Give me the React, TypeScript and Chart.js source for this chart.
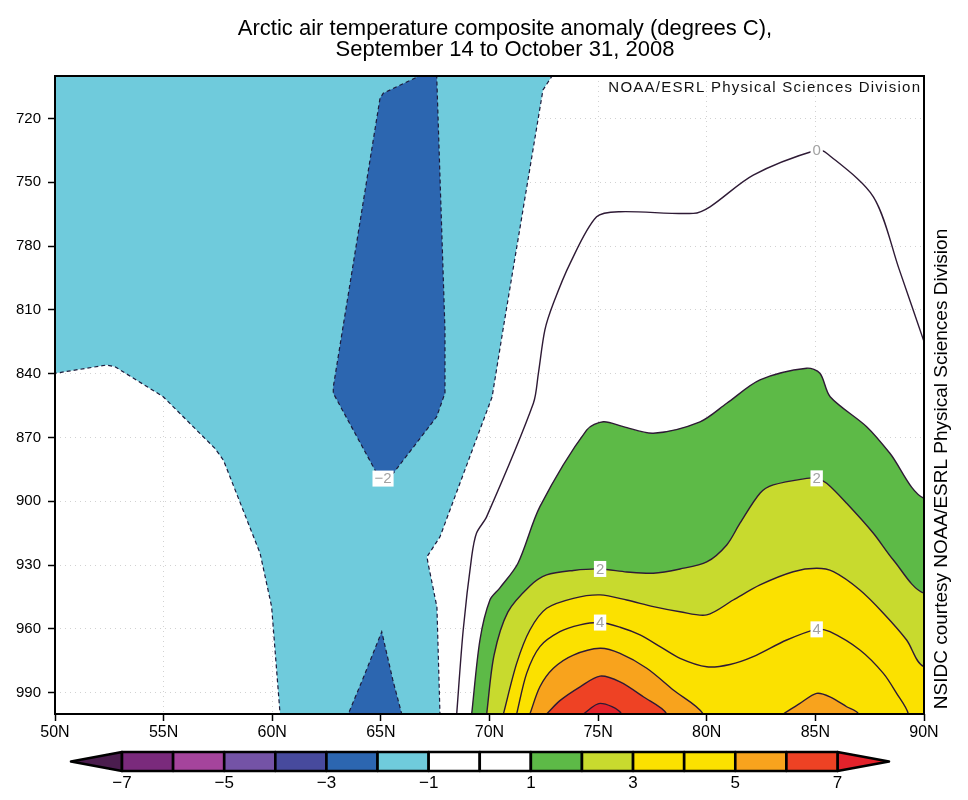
import React, { useEffect, useRef } from 'react';
import { Chart, registerables } from 'chart.js';

Chart.register(...registerables);

type Pt = [number, number]; // [latitude in degrees N, pressure in hPa]

const LAT_MIN = 50;
const LAT_MAX = 90;
const P_TOP = 700;
const P_BOTTOM = 1000;

const latTicks = [50, 55, 60, 65, 70, 75, 80, 85, 90];
const pressureTicks = [720, 750, 780, 810, 840, 870, 900, 930, 960, 990];

// Contour -1 (dashed), western branch: from the 50N edge down to the surface
const contourM1West: Pt[] = [
  [50, 839.8], [52.38, 835.9], [52.76, 836.7], [54.98, 850.8], [57.36, 875.1],
  [57.75, 880.6], [59.44, 924.4], [59.97, 949.5], [60.36, 1000],
];
// Contour -1 (dashed), eastern branch: from the top down to the surface
const contourM1East: Pt[] = [
  [72.88, 700], [72.46, 706.6], [70.62, 819.4], [70.12, 850.9], [67.72, 916.7],
  [67.12, 926.1], [67.17, 929.0], [67.58, 949.7], [67.72, 1000],
];
// Contour -2 (dashed), upper cell
const contourM2Upper: Pt[] = [
  [66.65, 700.6], [65.11, 708.1], [64.96, 710.5], [62.81, 846.2], [62.81, 849.2],
  [64.81, 886.8], [65.11, 888.6], [65.57, 886.8], [67.57, 860.2], [67.95, 849.1],
  [67.95, 819.4], [67.57, 700],
];
// Contour -2 (dashed), surface cell
const contourM2Lower: Pt[] = [
  [63.5, 1000], [64.15, 984], [65.04, 961.3], [65.55, 984], [65.96, 1000],
];
// Contour 0
const contour0: Pt[] = [
  [68.49, 1000], [68.79, 960.5], [69.18, 926.0], [69.4, 915], [69.87, 907.2],
  [72.02, 853.9], [72.25, 839.8], [72.55, 819.4], [72.94, 806.9], [73.71, 788.1],
  [74.93, 766.2], [76.01, 763.8], [79.38, 764.6], [80.15, 761.5], [82.14, 746.6],
  [85.06, 734.8], [85.52, 736.3], [87.67, 756.8], [88.85, 790.7], [90, 824.9],
];
const contour1: Pt[] = [
  [69.18, 1000], [69.56, 965.2], [70.02, 946.4], [70.48, 940.7], [71.31, 929.1],
  [72.32, 902.5], [74.47, 866.5], [75.24, 862.6], [76.16, 864.9], [77.54, 868.0],
  [79.69, 862.6], [80.92, 853.9], [82.45, 842.9], [84.6, 837.4], [85.21, 839.8],
  [85.68, 850.8], [87.36, 864.9], [88.43, 877.4], [90, 898.6],
];
const contour2: Pt[] = [
  [69.87, 1000], [70.21, 972.3], [70.85, 952.0], [71.86, 939.8], [72.63, 934.6],
  [73.86, 932.5], [75.09, 931.8], [76.32, 933.2], [77.54, 933.8], [78.77, 931.8],
  [80.0, 928.5], [80.92, 920.5], [81.53, 910.3], [82.45, 896.2], [83.06, 892.3],
  [84.6, 889.2], [85.06, 889.2], [85.52, 891.5], [86.44, 900.9], [87.67, 915.0],
  [88.59, 927.6], [90, 943.2],
];
const contour3: Pt[] = [
  [70.64, 1000], [71.25, 976.2], [71.86, 960.5], [72.63, 950.3], [73.86, 945.6],
  [75.09, 944.0], [76.32, 946.4], [77.54, 949.5], [78.77, 951.9], [80.0, 953.4],
  [81.22, 946.4], [82.45, 939.3], [83.98, 933.1], [85.06, 931.5], [85.83, 933.1],
  [87.05, 941.7], [88.13, 952.6], [89.2, 965.2], [90, 977.7],
];
const contour4: Pt[] = [
  [71.25, 1000], [71.71, 980.9], [72.32, 968.3], [73.24, 961.3], [74.17, 958.1],
  [75.09, 957.0], [76.01, 959.2], [76.93, 962.8], [77.85, 968.3], [78.77, 973.8],
  [80.0, 977.8], [81.07, 976.7], [82.14, 973.0], [83.68, 965.2], [85.06, 960.2],
  [85.67, 961.3], [87.05, 969.9], [88.13, 980.9], [88.74, 990.3], [89.28, 1000],
];
const contour5West: Pt[] = [
  [71.86, 1000], [72.32, 987.2], [72.94, 978.5], [73.86, 972.3], [75.09, 969.1],
  [76.01, 971.5], [77.24, 978.5], [78.46, 988.7], [79.84, 1000],
];
const contour5East: Pt[] = [
  [83.52, 1000], [84.29, 995.0], [85.06, 990.3], [85.67, 991.9], [86.44, 996.6], [86.98, 1000],
];
const contour6: Pt[] = [
  [72.63, 1000], [73.24, 993.7], [74.17, 987.2], [75.09, 982.2], [76.01, 984.9],
  [77.08, 991.9], [78.16, 1000],
];
const contour7: Pt[] = [
  [74.32, 1000], [75.09, 995.0], [76.08, 1000],
];

// Colour scale: boundaries and the colours of (below, each interval, above)
const colorLevels = [-7, -6, -5, -4, -3, -2, -1, 0, 1, 2, 3, 4, 5, 6, 7];
const colorbarColors = [
  '#4b1d4e', '#7a2a7c', '#a5449c', '#7453a6', '#474a9d', '#2c66b0', '#6fcbdc',
  '#ffffff', '#ffffff', '#5dba47', '#c8da2e', '#fbe100', '#fbe100', '#f8a31d',
  '#ee4224', '#e3222b',
];
const colorbarLabelLevels = [-7, -5, -3, -1, 1, 3, 5, 7];

const contourLabels = [
  { text: '0', lat: 85.06, p: 734.8 },
  { text: '−2', lat: 65.1, p: 889.3 },
  { text: '2', lat: 75.09, p: 931.8 },
  { text: '2', lat: 85.06, p: 889.2 },
  { text: '4', lat: 75.09, p: 957.0 },
  { text: '4', lat: 85.06, p: 960.2 },
];

const titleLines = [
  'Arctic air temperature composite anomaly (degrees C),',
  'September 14 to October 31, 2008',
];
const creditInside = 'NOAA/ESRL Physical Sciences Division';
const creditSide = 'NSIDC courtesy NOAA/ESRL Physical Sciences Division';

const SANS = '"Liberation Sans", Arial, Helvetica, sans-serif';
const LINE_COLOR = '#2e1a35';
const DASH_COLOR = '#1d1b3c';

const colorFor = (lo: number) => colorbarColors[colorLevels.indexOf(lo) + 1];
const fmtSigned = (v: number) => (v < 0 ? '−' + Math.abs(v) : String(v));
const toXY = (pts: Pt[]) => pts.map(([x, y]) => ({ x, y }));

const OUT = 12;
// Close a "greater than level" region toward the surface / the pole (outside the plot)
function closeTowardSurface(c: Pt[]): Pt[] {
  const first = c[0];
  const last = c[c.length - 1];
  const out: Pt[] = [...c];
  if (last[0] >= LAT_MAX - 1e-6) {
    out.push([LAT_MAX + 3, last[1]], [LAT_MAX + 3, P_BOTTOM + OUT]);
  } else {
    out.push([last[0], P_BOTTOM + OUT]);
  }
  out.push([first[0], P_BOTTOM + OUT]);
  return out;
}

function buildDatasets() {
  const layers: any[] = [];
  const east = [...contourM1East].reverse();
  const cyanPoly: Pt[] = [
    [LAT_MIN - 3, contourM1West[0][1]],
    ...contourM1West,
    [contourM1West[contourM1West.length - 1][0], P_BOTTOM + OUT],
    [east[0][0], P_BOTTOM + OUT],
    ...east,
    [east[east.length - 1][0], P_TOP - OUT],
    [LAT_MIN - 3, P_TOP - OUT],
  ];
  const dashed = { borderColor: DASH_COLOR, borderWidth: 1.2, borderDash: [4, 3], tension: 0 };
  layers.push({ data: toXY(cyanPoly), fill: 'shape', backgroundColor: colorFor(-2), ...dashed });
  const up = contourM2Upper;
  layers.push({
    data: toXY([[up[0][0], P_TOP - OUT], ...up, [up[up.length - 1][0], P_TOP - OUT]]),
    fill: 'shape', backgroundColor: colorFor(-3), ...dashed,
  });
  const lo = contourM2Lower;
  layers.push({
    data: toXY([[lo[0][0], P_BOTTOM + OUT], ...lo, [lo[lo.length - 1][0], P_BOTTOM + OUT]]),
    fill: 'shape', backgroundColor: colorFor(-3), ...dashed,
  });
  layers.push({ data: toXY(contour0), fill: false, borderColor: LINE_COLOR, borderWidth: 1.4, tension: 0.3 });
  const positive: [number, Pt[]][] = [
    [1, contour1], [2, contour2], [3, contour3], [4, contour4],
    [5, contour5West], [5, contour5East], [6, contour6], [7, contour7],
  ];
  for (const [lvl, c] of positive) {
    layers.push({
      data: toXY(closeTowardSurface(c)),
      fill: 'shape',
      backgroundColor: colorFor(lvl),
      borderColor: LINE_COLOR,
      borderWidth: 1.4,
      tension: 0.3,
    });
  }
  return layers.map((d, i) => ({ ...d, order: layers.length - i, pointRadius: 0 }));
}

const decorations = {
  id: 'decorations',
  afterDatasetsDraw(chart: any) {
    const { ctx, chartArea: a, scales } = chart;
    ctx.save();
    ctx.font = `15px ${SANS}`;
    ctx.textAlign = 'center';
    ctx.textBaseline = 'middle';
    for (const lb of contourLabels) {
      const x = scales.x.getPixelForValue(lb.lat);
      const y = scales.y.getPixelForValue(lb.p);
      const w = ctx.measureText(lb.text).width + 4;
      ctx.fillStyle = '#ffffff';
      ctx.fillRect(x - w / 2, y - 8, w, 16);
      ctx.fillStyle = '#a3a3a3';
      ctx.fillText(lb.text, x, y + 0.5);
    }
    ctx.strokeStyle = '#000';
    ctx.lineWidth = 2;
    ctx.strokeRect(a.left, a.top, a.right - a.left, a.bottom - a.top);
    ctx.font = `15px ${SANS}`;
    const natural = ctx.measureText(creditInside).width;
    const target = 313;
    const spacing = Math.max(0, (target - natural) / creditInside.length);
    (ctx as any).letterSpacing = `${spacing.toFixed(2)}px`;
    ctx.textAlign = 'right';
    ctx.fillStyle = '#111';
    ctx.fillText(creditInside, a.right - 4 + spacing, a.top + 12);
    (ctx as any).letterSpacing = '0px';
    ctx.restore();
  },
  afterDraw(chart: any) {
    const { ctx } = chart;
    ctx.save();
    ctx.fillStyle = '#000';
    ctx.textAlign = 'center';
    ctx.textBaseline = 'middle';
    ctx.font = `22px ${SANS}`;
    titleLines.forEach((t, i) => ctx.fillText(t, 505, 29 + i * 21));
    ctx.save();
    ctx.translate(942, 469);
    ctx.rotate(-Math.PI / 2);
    ctx.font = `19px ${SANS}`;
    ctx.fillText(creditSide, 0, 0);
    ctx.restore();
    const cb = { left: 122, right: 837.5, top: 752, bottom: 771, tipL: 71, tipR: 889 };
    const n = colorLevels.length - 1;
    const w = (cb.right - cb.left) / n;
    const mid = (cb.top + cb.bottom) / 2;
    ctx.lineWidth = 2.6;
    ctx.strokeStyle = '#000';
    ctx.lineJoin = 'round';
    ctx.beginPath();
    ctx.moveTo(cb.left, cb.top);
    ctx.lineTo(cb.tipL, mid);
    ctx.lineTo(cb.left, cb.bottom);
    ctx.closePath();
    ctx.fillStyle = colorbarColors[0];
    ctx.fill();
    ctx.stroke();
    ctx.beginPath();
    ctx.moveTo(cb.right, cb.top);
    ctx.lineTo(cb.tipR, mid);
    ctx.lineTo(cb.right, cb.bottom);
    ctx.closePath();
    ctx.fillStyle = colorbarColors[colorbarColors.length - 1];
    ctx.fill();
    ctx.stroke();
    for (let i = 0; i < n; i++) {
      const x = cb.left + i * w;
      ctx.fillStyle = colorbarColors[i + 1];
      ctx.fillRect(x, cb.top, w, cb.bottom - cb.top);
      ctx.strokeRect(x, cb.top, w, cb.bottom - cb.top);
    }
    ctx.fillStyle = '#000';
    ctx.font = `17px ${SANS}`;
    ctx.textBaseline = 'middle';
    for (const v of colorbarLabelLevels) {
      const i = colorLevels.indexOf(v);
      ctx.fillText(fmtSigned(v), cb.left + i * w, 783);
    }
    ctx.restore();
  },
};

export default function App() {
  const ref = useRef<HTMLCanvasElement>(null);
  useEffect(() => {
    const canvas = ref.current;
    if (!canvas) return;
    const chart = new Chart(canvas, {
      type: 'line',
      data: { datasets: buildDatasets() as any },
      options: {
        responsive: false,
        animation: false,
        events: [],
        layout: { padding: { left: 0, top: 76, right: 44, bottom: 56 } },
        elements: { point: { radius: 0 }, line: { capBezierPoints: false } },
        plugins: {
          legend: { display: false },
          tooltip: { enabled: false },
          title: { display: false },
        },
        scales: {
          x: {
            type: 'linear',
            min: LAT_MIN,
            max: LAT_MAX,
            afterBuildTicks: (s: any) => {
              s.ticks = latTicks.map((v) => ({ value: v }));
            },
            afterFit: (s: any) => {
              s.height = 30;
            },
            ticks: {
              callback: (v: any) => `${v}N`,
              color: '#000',
              font: { family: SANS, size: 16 },
              padding: 2,
              maxRotation: 0,
              autoSkip: false,
            },
            grid: {
              color: '#d2d2d2',
              lineWidth: 1,
              tickLength: 7,
              tickColor: '#000',
              tickWidth: 1.5,
              tickBorderDash: [],
            },
            border: { display: false, dash: [1, 4] },
          },
          y: {
            type: 'linear',
            reverse: true,
            min: P_TOP,
            max: P_BOTTOM,
            afterBuildTicks: (s: any) => {
              s.ticks = pressureTicks.map((v) => ({ value: v }));
            },
            afterFit: (s: any) => {
              s.width = 55;
            },
            ticks: {
              callback: (v: any) => String(v),
              color: '#000',
              font: { family: SANS, size: 15 },
              padding: 7,
              autoSkip: false,
            },
            grid: {
              color: '#d2d2d2',
              lineWidth: 1,
              tickLength: 7,
              tickColor: '#000',
              tickWidth: 1.5,
              tickBorderDash: [],
            },
            border: { display: false, dash: [1, 4] },
          },
        },
      } as any,
      plugins: [decorations],
    });
    return () => chart.destroy();
  }, []);
  return (
    <div style={{ position: 'fixed', left: 0, top: 0, width: 968, height: 800, background: '#ffffff' }}>
      <canvas ref={ref} width={968} height={800} style={{ display: 'block' }} />
    </div>
  );
}
